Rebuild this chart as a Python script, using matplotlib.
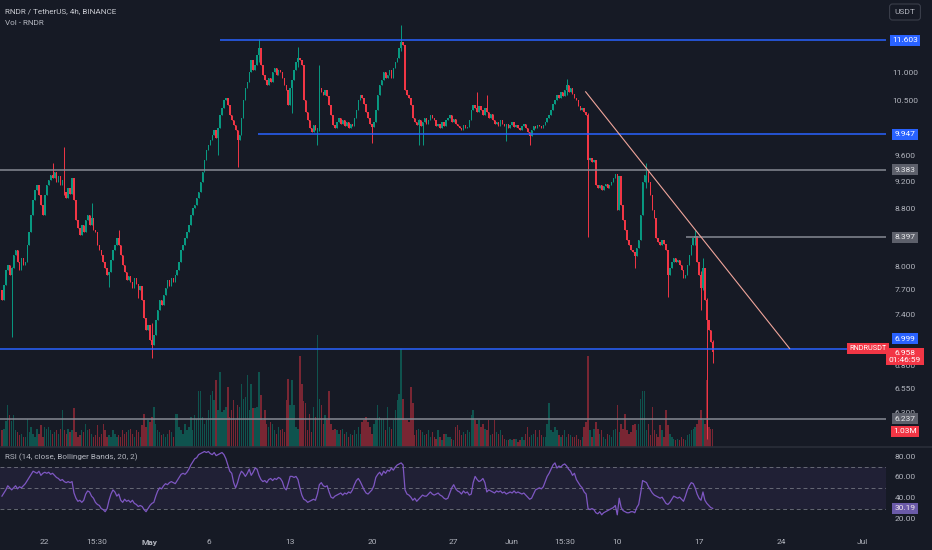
import matplotlib
matplotlib.use('Agg')
import matplotlib.pyplot as plt
import matplotlib.dates as mdates
import matplotlib.transforms as mtransforms
from matplotlib.lines import Line2D
import numpy as np
import pandas as pd

plt.rcParams['font.family'] = ['Roboto', 'DejaVu Sans']

# ---- data (4h candles, RNDR/USDT) ----
start_time = '2024-04-18 08:00'
first_open = 7.70
closes = [
    7.58, 7.77, 7.96, 8.03, 7.89, 7.99,
    8.16, 8.23, 8.06, 7.96, 8.12, 8.03,
    8.06, 8.29, 8.47, 8.71, 8.93, 9.08,
    9.15, 9.00, 8.85, 8.71, 9.00, 9.15,
    9.23, 9.30, 9.26, 9.35, 9.20, 9.29,
    9.15, 9.23, 9.05, 8.96, 9.11, 9.02,
    9.26, 8.93, 8.64, 8.53, 8.43, 8.57,
    8.47, 8.64, 8.71, 8.57, 8.67, 8.50,
    8.47, 8.29, 8.23, 8.16, 8.06, 7.99,
    7.89, 7.93, 8.09, 8.23, 8.29, 8.39,
    8.29, 8.16, 8.03, 7.93, 7.83, 7.88,
    7.80, 7.73, 7.86, 7.78, 7.70, 7.76,
    7.58, 7.36, 7.22, 7.28, 7.10, 7.04,
    7.16, 7.33, 7.46, 7.58, 7.52, 7.64,
    7.73, 7.83, 7.76, 7.86, 7.80, 7.89,
    7.96, 8.06, 8.23, 8.29, 8.39, 8.47,
    8.57, 8.71, 8.81, 8.85, 8.96, 9.05,
    9.20, 9.35, 9.53, 9.69, 9.77, 9.85,
    9.93, 10.01, 9.88, 10.04, 10.26, 10.38,
    10.52, 10.55, 10.43, 10.26, 10.18, 10.10,
    10.01, 9.85, 9.93, 10.21, 10.52, 10.73,
    10.83, 11.01, 11.23, 11.05, 11.14, 11.32,
    11.45, 11.14, 10.96, 10.87, 10.78, 10.90,
    10.83, 11.01, 11.08, 10.96, 11.05, 11.01,
    10.90, 10.78, 10.69, 10.43, 10.73, 10.87,
    11.05, 11.19, 11.27, 11.23, 11.14, 10.52,
    10.31, 10.18, 10.04, 9.98, 10.10, 10.01,
    10.04, 10.73, 10.66, 10.61, 10.69, 10.59,
    10.43, 10.26, 10.10, 10.04, 10.14, 10.21,
    10.11, 10.18, 10.08, 10.14, 10.04, 10.11,
    10.08, 10.21, 10.35, 10.52, 10.60, 10.55,
    10.45, 10.31, 10.21, 10.11, 10.06, 10.14,
    10.35, 10.60, 10.78, 10.87, 11.01, 10.90,
    10.96, 11.05, 10.90, 11.08, 11.19, 11.27,
    11.45, 11.56, 11.50, 10.69, 10.60, 10.55,
    10.43, 10.21, 10.14, 10.10, 10.18, 10.08,
    10.14, 10.21, 10.11, 10.18, 10.26, 10.21,
    10.18, 10.08, 10.11, 10.04, 10.14, 10.08,
    10.18, 10.21, 10.26, 10.14, 10.19, 10.11,
    10.08, 10.04, 10.01, 10.10, 10.04, 10.06,
    10.18, 10.35, 10.43, 10.38, 10.31, 10.41,
    10.35, 10.26, 10.38, 10.31, 10.21, 10.28,
    10.18, 10.11, 10.14, 10.08, 10.18, 10.11,
    10.08, 10.11, 10.04, 10.10, 10.14, 10.06,
    10.10, 10.04, 10.01, 10.08, 10.11, 10.04,
    9.98, 9.91, 10.01, 10.08, 10.04, 10.10,
    10.08, 10.04, 10.10, 10.14, 10.21, 10.26,
    10.35, 10.45, 10.52, 10.60, 10.55, 10.66,
    10.59, 10.69, 10.78, 10.66, 10.73, 10.62,
    10.55, 10.52, 10.42, 10.35, 10.38, 10.31,
    10.26, 9.53, 9.56, 9.50, 9.53, 9.15,
    9.11, 9.15, 9.08, 9.14, 9.17, 9.11,
    9.15, 9.20, 9.26, 9.32, 8.78, 9.29,
    8.85, 8.64, 8.50, 8.36, 8.29, 8.23,
    8.20, 8.15, 8.25, 8.36, 8.71, 9.20,
    9.30, 9.35, 9.20, 9.00, 8.78, 8.67,
    8.39, 8.33, 8.29, 8.36, 8.31, 8.23,
    7.89, 7.99, 8.06, 8.12, 8.06, 8.09,
    8.03, 7.96, 7.86, 7.89, 8.03, 8.16,
    8.29, 8.39, 8.42, 8.06, 7.89, 7.73,
    7.99, 7.58, 7.33, 7.22, 7.08, 6.958,
]

# notable wicks: candle index, high, low (None = no wick on that side)
wick_idx = [5, 26, 32, 46, 55, 60, 70, 77, 111, 121, 132, 149, 152, 162, 163,
            190, 205, 214, 216, 244, 249, 259, 271, 290, 301,
            325, 331, 342, 356, 359, 360, 362, 365]
wick_hi = [8.00, 9.48, 9.74, 8.88, None, 8.50, None, 7.30, None, 9.95, 11.62, None, 11.47, None, 11.13,
           None, 11.89, 10.20, None, 10.66, 10.60, None, 9.95, 10.89, 10.30,
           8.20, 9.48, 7.95, 8.50, 7.95, 8.12, 7.60, 7.10]
wick_lo = [7.13, 9.25, 9.00, None, 7.74, None, 7.60, 6.89, 9.61, 9.42, 11.20, 10.30, 11.10, 9.77, 10.00,
           9.80, 11.40, 9.77, 9.77, None, None, 9.83, 9.77, 10.60, 8.40,
           7.99, 9.10, 7.62, 8.30, 7.46, 7.70, 6.04, 6.84]

# volume in millions
volumes = [
    0.95, 1.0, 1.5, 2.4, 1.8, 1.5,
    1.8, 0.95, 0.85, 0.67, 0.76, 0.57,
    0.57, 1.6, 0.85, 1.15, 0.76, 0.57,
    1.05, 0.76, 1.24, 0.57, 1.15, 1.05,
    1.15, 0.95, 0.76, 0.85, 0.95, 0.76,
    1.05, 2.1, 0.95, 0.76, 1.05, 0.85,
    0.95, 2.2, 0.85, 0.57, 0.67, 0.95,
    0.85, 1.33, 0.95, 1.05, 0.76, 0.57,
    0.67, 1.24, 0.57, 0.76, 1.33, 0.95,
    0.57, 0.67, 0.57, 0.95, 0.76, 0.57,
    0.67, 0.57, 0.95, 0.76, 0.85, 0.95,
    1.05, 0.76, 0.57, 0.95, 0.85, 0.57,
    1.24, 1.9, 1.15, 1.52, 1.43, 1.7,
    2.3, 1.33, 0.95, 0.85, 0.67, 0.76,
    0.57, 0.76, 0.95, 0.85, 0.57, 1.9,
    1.9, 1.15, 0.95, 0.76, 1.33, 0.95,
    1.15, 1.7, 0.95, 1.8, 1.6, 3.2,
    3.2, 1.7, 1.33, 1.52, 2.1, 2.95,
    3.2, 2.67, 3.8, 2.1, 4.3, 2.0,
    2.1, 2.3, 3.4, 1.7, 2.1, 2.67,
    1.52, 2.38, 2.3, 3.6, 2.76, 2.86,
    4.1, 2.1, 3.6, 2.2, 2.2, 2.3,
    4.3, 2.95, 1.52, 2.1, 1.33, 1.15,
    1.43, 1.33, 0.95, 0.76, 1.15, 0.95,
    1.05, 0.85, 2.67, 3.9, 2.38, 3.8,
    2.38, 1.15, 1.05, 5.2, 3.6, 2.6,
    2.5, 0.95, 1.9, 0.85, 2.3, 1.7,
    6.4, 2.76, 2.38, 1.33, 1.8, 1.52,
    3.2, 1.33, 0.95, 1.05, 0.95, 0.76,
    0.95, 1.05, 0.76, 0.85, 0.57, 0.76,
    0.67, 0.95, 0.76, 1.15, 0.76, 1.43,
    1.52, 1.7, 1.43, 1.15, 0.76, 1.33,
    1.52, 2.38, 1.7, 1.6, 1.6, 0.95,
    2.3, 1.15, 1.05, 1.52, 2.1, 2.67,
    3.05, 5.6, 2.76, 1.52, 1.52, 1.43,
    3.4, 2.5, 0.67, 0.95, 1.05, 0.95,
    0.85, 0.67, 0.76, 0.95, 0.57, 0.85,
    0.57, 0.48, 0.95, 0.57, 0.38, 0.76,
    0.76, 0.57, 0.57, 0.48, 0.38, 1.15,
    1.24, 0.95, 0.67, 0.85, 0.76, 0.95,
    0.85, 1.8, 2.1, 1.52, 1.33, 1.52,
    1.15, 1.33, 1.05, 0.95, 1.52, 0.67,
    0.76, 1.52, 0.85, 0.76, 0.95, 0.67,
    0.48, 0.38, 0.38, 0.48, 0.38, 0.48,
    0.48, 0.29, 0.38, 0.57, 0.38, 0.76,
    1.15, 0.57, 0.67, 0.76, 0.95, 0.57,
    0.95, 0.67, 0.57, 0.57, 1.33, 2.5,
    0.95, 0.85, 1.15, 0.95, 0.67, 0.57,
    0.67, 0.95, 0.57, 0.76, 0.67, 0.57,
    0.57, 0.67, 0.48, 0.38, 0.57, 1.15,
    1.43, 5.2, 0.95, 0.57, 1.05, 1.43,
    1.05, 0.76, 0.95, 0.57, 0.48, 0.76,
    0.67, 0.57, 0.95, 1.05, 2.38, 0.85,
    1.33, 1.05, 1.9, 0.95, 0.76, 0.85,
    1.24, 1.33, 0.95, 1.33, 2.76, 3.2,
    3.2, 0.95, 1.33, 0.67, 2.3, 0.95,
    0.76, 0.57, 1.24, 0.95, 0.57, 2.1,
    1.24, 0.76, 0.57, 0.48, 0.38, 0.48,
    0.38, 0.57, 0.48, 0.38, 0.67, 0.76,
    0.95, 1.05, 1.15, 1.33, 1.52, 2.1,
    1.52, 1.33, 3.8, 1.15, 1.05, 1.03,
]

rsi = [
    42, 45, 48, 52, 50, 48,
    50, 52, 49, 51, 50, 52,
    54, 57, 60, 63, 66, 65,
    64, 66, 62, 64, 65, 64,
    65, 63, 64, 62, 60, 59,
    57, 58, 56, 55, 56, 55,
    56, 45, 40, 37, 38, 36,
    38, 44, 47, 46, 42, 40,
    36, 34, 33, 30, 29, 27,
    30, 38, 44, 48, 46, 42,
    44, 38, 36, 39, 37, 38,
    36, 38, 35, 34, 32, 33,
    32, 29, 27, 30, 33, 35,
    36, 42, 47, 50, 49, 52,
    54, 53, 55, 56, 55, 54,
    57, 60, 63, 64, 63, 65,
    68, 72, 75, 78, 79, 82,
    83, 84, 85, 84, 85, 83,
    82, 84, 81, 82, 83, 84,
    82, 78, 72, 66, 64, 55,
    50, 55, 62, 66, 64, 61,
    64, 68, 62, 65, 69, 68,
    62, 58, 56, 57, 55, 58,
    59, 57, 59, 58, 60, 59,
    56, 50, 48, 54, 61, 61,
    60, 61, 58, 50, 43, 39,
    38, 36, 37, 38, 39, 38,
    44, 53, 55, 52, 51, 52,
    46, 41, 40, 42, 43, 44,
    45, 43, 45, 44, 46, 45,
    48, 53, 57, 59, 56, 52,
    48, 45, 44, 46, 48, 52,
    60, 63, 65, 62, 66, 64,
    67, 66, 69, 67, 70, 72,
    73, 74, 72, 48, 44, 43,
    41, 38, 40, 37, 39, 41,
    43, 42, 42, 44, 46, 44,
    43, 44, 45, 43, 42, 40,
    39, 40, 45, 50, 53, 49,
    47, 46, 44, 47, 45, 46,
    43, 44, 55, 61, 58, 56,
    57, 59, 55, 46, 48, 47,
    46, 45, 47, 46, 47, 45,
    46, 44, 45, 46, 45, 47,
    45, 46, 45, 44, 45, 43,
    41, 39, 40, 44, 48, 49,
    50, 49, 51, 56, 61, 64,
    68, 72, 74, 69, 71, 70,
    72, 73, 71, 68, 66, 62,
    64, 58, 55, 52, 50, 46,
    44, 30, 29, 30, 29, 26,
    25, 27, 24, 26, 27, 28,
    29, 30, 31, 33, 24, 40,
    31, 28, 27, 26, 26, 27,
    27, 26, 31, 34, 45, 57,
    56, 55, 51, 48, 45, 43,
    42, 41, 40, 41, 38, 35,
    34, 36, 39, 42, 41, 40,
    41, 39, 37, 42, 48, 52,
    55, 54, 50, 44, 40, 38,
    46, 38, 35, 33, 31, 30.19,
]

# drawn levels
levels = [11.603, 9.947, 9.383, 8.397, 6.999, 6.237]
level_start = ['2024-05-07 00:00', '2024-05-10 06:00', None, '2024-06-15 21:00', None, None]
level_kind = ['blue', 'blue', 'gray', 'gray', 'blue', 'gray']
trend_dates = ['2024-06-07 07:00', '2024-06-24 18:00']
trend_prices = [10.66, 7.00]

price_ticks = [11.0, 10.5, 9.6, 9.2, 8.8, 8.0, 7.7, 7.4, 6.8, 6.55, 6.3]
rsi_ticks = [80, 60, 40, 20]
xtick_dates = ['2024-04-22 00:00', '2024-04-26 11:00', '2024-05-01 00:00', '2024-05-06 00:00',
               '2024-05-13 00:00', '2024-05-20 00:00', '2024-05-27 00:00', '2024-06-01 00:00',
               '2024-06-05 12:00', '2024-06-10 00:00', '2024-06-17 00:00', '2024-06-24 00:00',
               '2024-07-01 00:00']
xtick_labels = ['22', '15:30', 'May', '6', '13', '20', '27', 'Jun', '15:30', '10', '17', '24', 'Jul']

# ---- styling ----
BG = '#161a25'
UP = '#089981'
DOWN = '#f23645'
TXT = '#b2b5be'
BLUE = '#2962ff'
GRAY = '#868993'
LBL_GRAY = '#5d606b'
FS = 6.0


def dnum(s):
    return mdates.date2num(pd.Timestamp(s))


c = np.array(closes)
o = np.concatenate([[first_open], c[:-1]])
hi = np.maximum(o, c)
lo = np.minimum(o, c)
for i, h, l in zip(wick_idx, wick_hi, wick_lo):
    if h is not None:
        hi[i] = max(hi[i], h)
    if l is not None:
        lo[i] = min(lo[i], l)
up = c >= o
dates = pd.date_range(start_time, periods=len(c), freq='4h')
x = mdates.date2num(dates)
cols = np.where(up, UP, DOWN)

fig = plt.figure(figsize=(9.32, 5.5), dpi=100, facecolor=BG)
ax = fig.add_axes([0, 103 / 550, 886 / 932, 447 / 550])
axv = ax.twinx()
axr = fig.add_axes([0, 22 / 550, 886 / 932, 79 / 550])

xlim = (dnum('2024-04-18 04:00'), dnum('2024-07-03 00:00'))

for a in (ax, axv, axr):
    a.set_facecolor(BG)
    for s in a.spines.values():
        s.set_visible(False)
    a.set_xlim(*xlim)
ax.set_zorder(2)
axv.set_zorder(1)
ax.patch.set_visible(False)

# volume
axv.bar(x, volumes, width=0.12, color=cols, alpha=0.45, linewidth=0)
axv.set_ylim(0, 25.5)
axv.set_yticks([])

# price
ax.set_yscale('log')
ax.set_ylim(5.957, 12.39)
ax.vlines(x, lo, hi, colors=cols, linewidth=0.7)
ax.bar(x, np.maximum(np.abs(c - o), 0.012), bottom=np.minimum(o, c), width=0.125,
       color=cols, linewidth=0)
ax.set_xticks([])
ax.yaxis.set_major_locator(matplotlib.ticker.NullLocator())
ax.yaxis.set_minor_locator(matplotlib.ticker.NullLocator())

for lv, st, kind in zip(levels, level_start, level_kind):
    xs = xlim[0] if st is None else dnum(st)
    ax.hlines(lv, xs, xlim[1], color=BLUE if kind == 'blue' else GRAY, linewidth=1.1)

ax.plot([dnum(d) for d in trend_dates], trend_prices, color='#f0a59b', linewidth=0.8)

# right price scale
tp = mtransforms.blended_transform_factory(fig.transFigure, ax.transData)
XL = 905 / 932
for t in price_ticks:
    ax.text(XL, t, f'{t:.3f}', transform=tp, ha='center', va='center', fontsize=FS,
            color=TXT, clip_on=False)
for lv, kind in zip(levels, level_kind):
    dy = 7 if lv == 6.999 else 0
    ax.annotate(f'{lv:.3f}', xy=(XL, lv), xycoords=tp, xytext=(0, dy), textcoords='offset points',
                ha='center', va='center', fontsize=FS,
                color='white' if kind == 'blue' else '#e8e9ec',
                bbox=dict(boxstyle='square,pad=0.3', fc=BLUE if kind == 'blue' else LBL_GRAY, ec='none'),
                annotation_clip=False, zorder=5)

last = closes[-1]
ax.annotate(f'{last:.3f}\n01:46:59', xy=(XL, last), xycoords=tp, xytext=(0, -3),
            textcoords='offset points', ha='center', va='center', fontsize=FS, color='white',
            linespacing=1.1, bbox=dict(boxstyle='square,pad=0.3', fc=DOWN, ec='none'),
            annotation_clip=False, zorder=6)
ax.annotate('RNDRUSDT', xy=(868 / 932, last), xycoords=tp, xytext=(0, 2.5),
            textcoords='offset points', ha='center', va='center', fontsize=5.2, color='white',
            bbox=dict(boxstyle='square,pad=0.3', fc=DOWN, ec='none'), annotation_clip=False, zorder=6)

tv = mtransforms.blended_transform_factory(fig.transFigure, axv.transData)
axv.annotate(f'{volumes[-1]:.2f}M', xy=(XL, volumes[-1]), xycoords=tv, xytext=(0, -1.5),
             textcoords='offset points', ha='center', va='center', fontsize=FS, color='white',
             bbox=dict(boxstyle='square,pad=0.3', fc=DOWN, ec='none'), annotation_clip=False)

fig.text(XL, 1 - 12 / 550, 'USDT', ha='center', va='center', fontsize=FS, color=TXT,
         bbox=dict(boxstyle='round,pad=0.6,rounding_size=0.35', fc=BG, ec='#3a3e4a', lw=0.8))

fig.text(5 / 932, 1 - 11 / 550, 'RNDR / TetherUS, 4h, BINANCE', fontsize=5.9, color='#c6c8cf',
         va='center', ha='left')
fig.text(5 / 932, 1 - 23 / 550, 'Vol - RNDR', fontsize=5.9, color=TXT, va='center', ha='left')

# pane separator
fig.add_artist(Line2D([0, 1], [103 / 550, 103 / 550], color='#2a2e39', linewidth=1.2))

# RSI pane
axr.set_ylim(11.3, 87.4)
axr.axhspan(30, 70, color='#7e57c2', alpha=0.1, linewidth=0)
for lvl in (70, 50, 30):
    axr.axhline(lvl, color='#787b86', linestyle=(0, (4, 3)), linewidth=0.7, alpha=0.8)
axr.plot(x, rsi, color='#7e57c2', linewidth=0.9)
axr.set_yticks([])
tr = mtransforms.blended_transform_factory(fig.transFigure, axr.transData)
for t in rsi_ticks:
    axr.text(XL, t, f'{t:.2f}', transform=tr, ha='center', va='center', fontsize=FS,
             color=TXT, clip_on=False)
axr.annotate(f'{rsi[-1]:.2f}', xy=(XL, rsi[-1]), xycoords=tr, ha='center', va='center',
             fontsize=FS, color='#f3e9ee',
             bbox=dict(boxstyle='square,pad=0.3', fc='#6a5aa8', ec='none'), annotation_clip=False)
axr.text(5 / 932, 80, 'RSI (14, close, Bollinger Bands, 20, 2)', transform=tr,
         fontsize=5.9, color=TXT, va='center', ha='left')

axr.set_xticks([dnum(d) for d in xtick_dates])
axr.set_xticklabels(xtick_labels, fontsize=FS, color=TXT)
for lab in axr.get_xticklabels():
    if lab.get_text() == 'May':
        lab.set_fontweight('bold')
axr.tick_params(axis='x', length=0, pad=8)

fig.savefig('out.png', dpi=100, facecolor=BG)
